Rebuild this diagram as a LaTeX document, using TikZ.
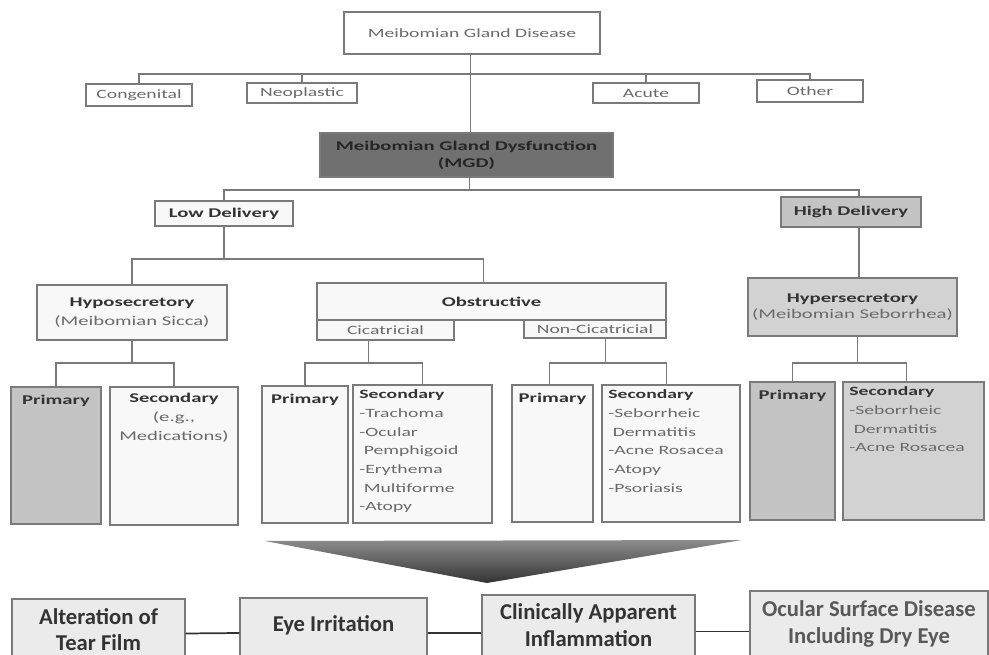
\documentclass[tikz,border=0pt]{standalone}
\usepackage{fontspec}
\setmainfont{Carlito}
\newfontfamily\wideF[FakeStretch=1.55]{Carlito}
\definecolor{lineC}{HTML}{7A7A7A}
\definecolor{txtR}{HTML}{6A6A6A}
\definecolor{txtB}{HTML}{333333}
\definecolor{priF}{HTML}{C4C4C4}
\definecolor{hypF}{HTML}{D2D2D2}
\definecolor{mgdF}{HTML}{707070}
\definecolor{botF}{HTML}{EBEBEB}
\definecolor{whF}{HTML}{F8F8F8}
\newcommand\mybox[7]{\node[#6, minimum width={(#4-#2)*0.75pt}, minimum height={(#5-#3)*0.75pt}] (#1) at ({(#2+#4)/2},{(#3+#5)/2}) {#7};}
\tikzset{
  bx/.style={draw=lineC, line width=0.8pt, fill=#1, inner sep=0pt, align=center},
  bx/.default=whF,
  rt/.style={font=\wideF\fontsize{9.5pt}{12pt}\selectfont, text=txtR, inner sep=0pt, align=center},
  bt/.style={font=\wideF\bfseries\fontsize{10pt}{12pt}\selectfont, text=txtB, inner sep=0pt, align=center},
  lt/.style={font=\wideF\fontsize{9.5pt}{14pt}\selectfont, text=txtR, inner sep=0pt, align=left},
  big/.style={font=\bfseries\fontsize{17pt}{20pt}\selectfont, text=txtB, inner sep=0pt, align=center},
  ln/.style={draw=lineC, line width=0.8pt},
  bln/.style={draw=txtB, line width=1.3pt},
}
\begin{document}
\begin{tikzpicture}[x=0.75pt,y=-0.75pt]
\useasboundingbox (0,0) rectangle (989,655);
\fill[white] (0,0) rectangle (989,655);
% top level
\mybox{mgdis}{344}{12}{600}{54}{bx=white}{}
\node[rt] (mgdist) at (mgdis.center) {Meibomian Gland Disease};
\mybox{cong}{86}{84}{192}{106}{bx=white}{}
\node[rt] (congt) at (cong.center) {Congenital};
\mybox{neo}{247}{83}{357}{103}{bx=white}{}
\node[rt] (neot) at (neo.center) {Neoplastic};
\mybox{acute}{593}{83}{699}{103}{bx=white}{}
\node[rt] (acutet) at (acute.center) {Acute};
\mybox{other}{757}{80}{863}{102}{bx=white}{}
\node[rt] (othert) at (other.center) {Other};
\mybox{mgd}{320}{133}{613}{177}{bx=mgdF}{}
\node[bt, text=black!85, font=\wideF\bfseries\fontsize{10pt}{12.5pt}\selectfont] (mgdt) at (mgd.center) {Meibomian Gland Dysfunction\\(MGD)};
% delivery
\mybox{low}{155}{201}{293}{226}{bx=whF}{}
\node[bt] (lowt) at (low.center) {Low Delivery};
\mybox{high}{781}{197}{921}{227}{bx=priF}{}
\node[bt] (hight) at (high.center) {High Delivery};
% second level
\mybox{hypo}{37}{285}{227}{340}{bx=whF}{}
\node[bt, font=\wideF\fontsize{10pt}{14pt}\selectfont] (hypot) at (hypo.center) {\bfseries Hyposecretory\\\mdseries\color{txtR}(Meibomian Sicca)};
\mybox{obs}{317}{283}{666}{320}{bx=whF}{}
\node[bt] (obst) at (obs.center) {Obstructive};
\mybox{cic}{317}{320}{454}{340}{bx=whF}{}
\node[rt] (cict) at (cic.center) {Cicatricial};
\mybox{ncic}{524}{320}{666}{338}{bx=whF}{}
\node[rt] (ncict) at (ncic.center) {Non-Cicatricial};
\mybox{hyper}{748}{278}{957}{336}{bx=hypF}{}
\node[bt, font=\wideF\fontsize{10pt}{12pt}\selectfont] (hypert) at (hyper.center) {\bfseries Hypersecretory\\\mdseries\color{txtR}(Meibomian Seborrhea)};
% third level
\mybox{hp}{11}{387}{101}{524}{bx=priF}{}
\node[bt, anchor=north] (hpt) at ([yshift=-6pt]hp.north) {Primary};
\mybox{hs}{110}{387}{238}{525}{bx=whF}{}
\node[bt, anchor=north, font=\wideF\fontsize{10pt}{14pt}\selectfont] (hst) at ([yshift=-5pt]hs.north) {\bfseries Secondary\\\mdseries\color{txtR}(e.g.,\\\mdseries\color{txtR}Medications)};
\mybox{cp}{262}{386}{348}{523}{bx=whF}{}
\node[bt, anchor=north] (cpt) at ([yshift=-6pt]cp.north) {Primary};
\mybox{cs}{353}{385}{492}{523}{bx=whF}{}
\node[lt, anchor=north west] (cst) at ([xshift=5pt,yshift=-4pt]cs.north west) {{\bfseries\color{txtB}Secondary}\\-Trachoma\\-Ocular\\\ Pemphigoid\\-Erythema\\\ Multiforme\\-Atopy};
\mybox{np}{512}{385}{593}{522}{bx=whF}{}
\node[bt, anchor=north] (npt) at ([yshift=-6pt]np.north) {Primary};
\mybox{ns}{602}{385}{740}{522}{bx=whF}{}
\node[lt, anchor=north west] (nst) at ([xshift=5pt,yshift=-4pt]ns.north west) {{\bfseries\color{txtB}Secondary}\\-Seborrheic\\\ Dermatitis\\-Acne Rosacea\\-Atopy\\-Psoriasis};
\mybox{yp}{750}{382}{835}{520}{bx=priF}{}
\node[bt, anchor=north] (ypt) at ([yshift=-6pt]yp.north) {Primary};
\mybox{ys}{843}{382}{984}{520}{bx=hypF}{}
\node[lt, anchor=north west] (yst) at ([xshift=5pt,yshift=-4pt]ys.north west) {{\bfseries\color{txtB}Secondary}\\-Seborrheic\\\ Dermatitis\\-Acne Rosacea};
% funnel
\shade[top color=black!45, bottom color=black!80] (265,541) -- (742,540) -- (487,583) -- cycle;
% bottom row
\mybox{alt}{12}{599}{185}{668}{bx=botF}{}
\node[big] (altt) at ([yshift=3pt]alt.center) {Alteration of\\Tear Film};
\mybox{eye}{240}{598}{427}{668}{bx=botF}{}
\node[big] (eyet) at ([yshift=6pt]eye.center) {Eye Irritation};
\mybox{clin}{482}{595}{695}{668}{bx=botF}{}
\node[big] (clint) at ([yshift=5pt]clin.center) {Clinically Apparent\\Inflammation};
\mybox{ocu}{750}{591}{988}{668}{bx=botF}{}
\node[big, text=black!65] (ocut) at ([yshift=4pt]ocu.center) {Ocular Surface Disease\\Including Dry Eye};
% connectors
\coordinate (b1) at (0,74);
\coordinate (b2) at (0,190);
\coordinate (b3) at (0,259);
\coordinate (b4) at (0,363);
\draw[ln] ([xshift=-1pt]mgdis.south) -- ([xshift=-1pt]mgdis.south |- mgd.north);
\draw[ln] (cong.north) -- (cong.north |- b1) -| (other.north);
\draw[ln] (neo.north) -- (neo.north |- b1);
\draw[ln] (acute.north) -- (acute.north |- b1);
\draw[ln] ([xshift=2pt]mgd.south) -- ([xshift=2pt]mgd.south |- b2);
\draw[ln] (low.north) -- (low.north |- b2) -| ([xshift=6pt]high.north);
\draw[ln] (low.south) -- (low.south |- b3);
\draw[ln] (hypo.north) -- (hypo.north |- b3) -| ([xshift=-6pt]obs.north);
\draw[ln] ([xshift=6pt]high.south) -- ([xshift=6pt]high.south |- hyper.north);
\draw[ln] (hypo.south) -- (hypo.south |- b4);
\draw[ln] (hp.north) -- (hp.north |- b4) -| (hs.north);
\draw[ln] ([xshift=-12.75pt]cic.south) -- ([xshift=-12.75pt]cic.south |- b4);
\draw[ln] (cp.north) -- (cp.north |- b4) -| (cs.north);
\draw[ln] ([xshift=8pt]ncic.south) -- ([xshift=8pt]ncic.south |- b4);
\draw[ln] ([xshift=-2pt]np.north) -- ([xshift=-2pt]np.north |- b4) -| ([xshift=-3.5pt]ns.north);
\draw[ln] ([xshift=4pt]hyper.south) -- ([xshift=4pt]hyper.south |- b4);
\draw[ln] (yp.north) -- (yp.north |- b4) -| ([xshift=-5pt]ys.north);
\draw[bln] (alt.east) -- (eye.west);
\draw[bln] (eye.east) -- (eye.east -| clin.west);
\draw[bln] (clin.east) -- (clin.east -| ocu.west);
\end{tikzpicture}
\end{document}
